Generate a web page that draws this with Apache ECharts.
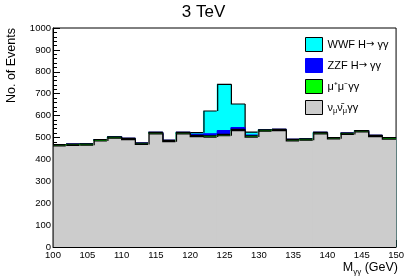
<!DOCTYPE html>
<html><head><meta charset="utf-8">
<script src="https://cdn.jsdelivr.net/npm/echarts@6/dist/echarts.min.js"></script>
<style>html,body{margin:0;padding:0;background:#fff}#c{width:407px;height:278px}</style>
</head><body><div id="c"></div>
<script>
// bin lower edges (GeV), bin width 2 GeV
const binLow = [100,102,104,106,108,110,112,114,116,118,120,122,124,126,128,130,132,134,136,138,140,142,144,146,148];
const binWidth = 2;
// event counts per bin
const nunuGG = [462,464,465,484,497,490,468,517,481,517,504,502,508,531,502,529,531,485,488,517,494,514,526,504,493];
const mumuGG = [6,6,6,6,6,6,6,6,6,6,6,6,6,6,6,6,6,6,6,6,6,6,6,6,6];
const zzfH   = [0,0,0,0,0,0,0,0,0,0,4,9,18,8,3,0,0,0,0,0,0,0,0,0,0];
const wwfH   = [0,0,0,0,0,0,0,0,0,0,8,104,211,108,14,0,0,0,0,0,0,0,0,0,0];
const xTicks = [100,105,110,115,120,125,130,135,140,145,150];
const yTicks = [0,100,200,300,400,500,600,700,800,900,1000];

const FONT = 'Liberation Sans';
const names = ['WWF H\u2192 \u03b3\u03b3','ZZF H\u2192 \u03b3\u03b3','\u03bc\u207a\u03bc\u207b\u03b3\u03b3','nunu'];
const labels = {
  'WWF H\u2192 \u03b3\u03b3':'{a|WWF H}{ar|\u2192}{a| \u03b3\u03b3}',
  'ZZF H\u2192 \u03b3\u03b3':'{a|ZZF H}{ar|\u2192}{a| \u03b3\u03b3}',
  '\u03bc\u207a\u03bc\u207b\u03b3\u03b3':'{a|\u03bc\u207a\u03bc\u207b\u03b3\u03b3}',
  'nunu':'{a|\u03bd}{s|\u03bc}{a|\u03bd\u0304}{s|\u03bc}{a|\u03b3\u03b3}'
};
const fills = ['#00ffff','#0000ff','#00ff00','#cccccc'];
const strokes = ['#000000','#0000ff','#000000','#000000'];

// cumulative stacks: grey bottom, then green, blue, cyan
const layers = [nunuGG, mumuGG, zzfH, wwfH];
const cum = [];
let run = binLow.map(()=>0);
for (const l of layers) { run = run.map((v,i)=>v+l[i]); cum.push(run.slice()); }
const stackTops = [cum[3], cum[2], cum[1], cum[0]]; // order of names

function makeData(tops){
  return binLow.map((x,i)=>[x, x+binWidth, tops[i], i===0?0:tops[i-1]]);
}
function renderItem(fill, stroke){
  return function(params, api){
    const x0=api.value(0), x1=api.value(1), top=api.value(2), prev=api.value(3);
    const pb=api.coord([x0,0]), pt=api.coord([x1,top]), pt0=api.coord([x0,top]), pp=api.coord([x0,prev]);
    const left = params.dataIndex===0 ? pb[0] : pb[0]-1;
    return {type:'group', children:[
      {type:'rect', shape:{x:left, y:pt[1], width:pt[0]-left, height:pb[1]-pt[1]}, style:{fill:fill}},
      {type:'polyline', shape:{points:[pp,pt0,pt]}, style:{stroke:stroke, lineWidth:1.2, fill:null}}
    ]};
  };
}
const series = names.map((n,k)=>({
  type:'custom', name:n, clip:true,
  renderItem: renderItem(fills[k], strokes[k]),
  itemStyle:{color:fills[k], borderColor:strokes[k]},
  encode:{x:[0,1], y:2},
  data: makeData(stackTops[k])
}));

const chart = echarts.init(document.getElementById('c'), null, {renderer:'canvas'});
chart.setOption({
  animation:false,
  backgroundColor:'#fff',
  title:{text:'3 TeV', left:'center', top:4, padding:0,
    textStyle:{fontFamily:FONT, fontSize:17, fontWeight:'normal', color:'#000'}},
  grid:{left:53, right:9, top:28, bottom:31, show:true, borderColor:'#000', borderWidth:1, backgroundColor:'transparent'},
  legend:{
    orient:'vertical', left:300, top:32, itemWidth:17, itemHeight:14, itemGap:6,
    selectedMode:false,
    data: names.map((n,k)=>({name:n, icon:'rect', itemStyle:{color:fills[k], borderColor:strokes[k], borderWidth:1}})),
    formatter: function(n){ return labels[n]; },
    textStyle:{fontFamily:FONT, fontSize:11, color:'#000', padding:[0,0,0,0],
      rich:{a:{fontFamily:FONT, fontSize:11, color:'#000', lineHeight:14},
            ar:{fontFamily:'DejaVu Sans', fontSize:10, color:'#000', lineHeight:14},
            s:{fontFamily:FONT, fontSize:7.5, color:'#000', lineHeight:8, verticalAlign:'bottom'}}}
  },
  xAxis:{type:'value', min:xTicks[0], max:xTicks[xTicks.length-1], interval:5,
    axisLine:{show:true, onZero:false, lineStyle:{color:'#000', width:1}},
    axisTick:{show:true, inside:true, length:7, lineStyle:{color:'#000'}},
    minorTick:{show:true, splitNumber:5, length:4, lineStyle:{color:'#000'}},
    splitLine:{show:false},
    axisLabel:{fontFamily:FONT, fontSize:9.5, color:'#000', margin:3, formatter:v=>String(v)}
  },
  yAxis:{type:'value', min:yTicks[0], max:yTicks[yTicks.length-1], interval:100,
    axisLine:{show:true, lineStyle:{color:'#000', width:1}},
    axisTick:{show:true, inside:true, length:7, lineStyle:{color:'#000'}},
    minorTick:{show:true, splitNumber:5, length:4, lineStyle:{color:'#000'}},
    splitLine:{show:false},
    axisLabel:{fontFamily:FONT, fontSize:9.5, color:'#000', margin:2, formatter:v=>String(v)}
  },
  graphic:[
    {type:'text', x:12, y:28, rotation:Math.PI/2, style:{text:'No. of Events', fontFamily:FONT, fontSize:12.5, fill:'#000', align:'right', verticalAlign:'middle'}},
    {type:'text', x:398, y:268, style:{text:'{a|M}{s|\u03b3\u03b3}{a| (GeV)}', align:'right', verticalAlign:'middle',
      rich:{a:{fontFamily:FONT, fontSize:12.5, fill:'#000', lineHeight:15}, s:{fontFamily:FONT, fontSize:8, fill:'#000', lineHeight:9, verticalAlign:'bottom'}}}}
  ],
  series: series
});
</script></body></html>
